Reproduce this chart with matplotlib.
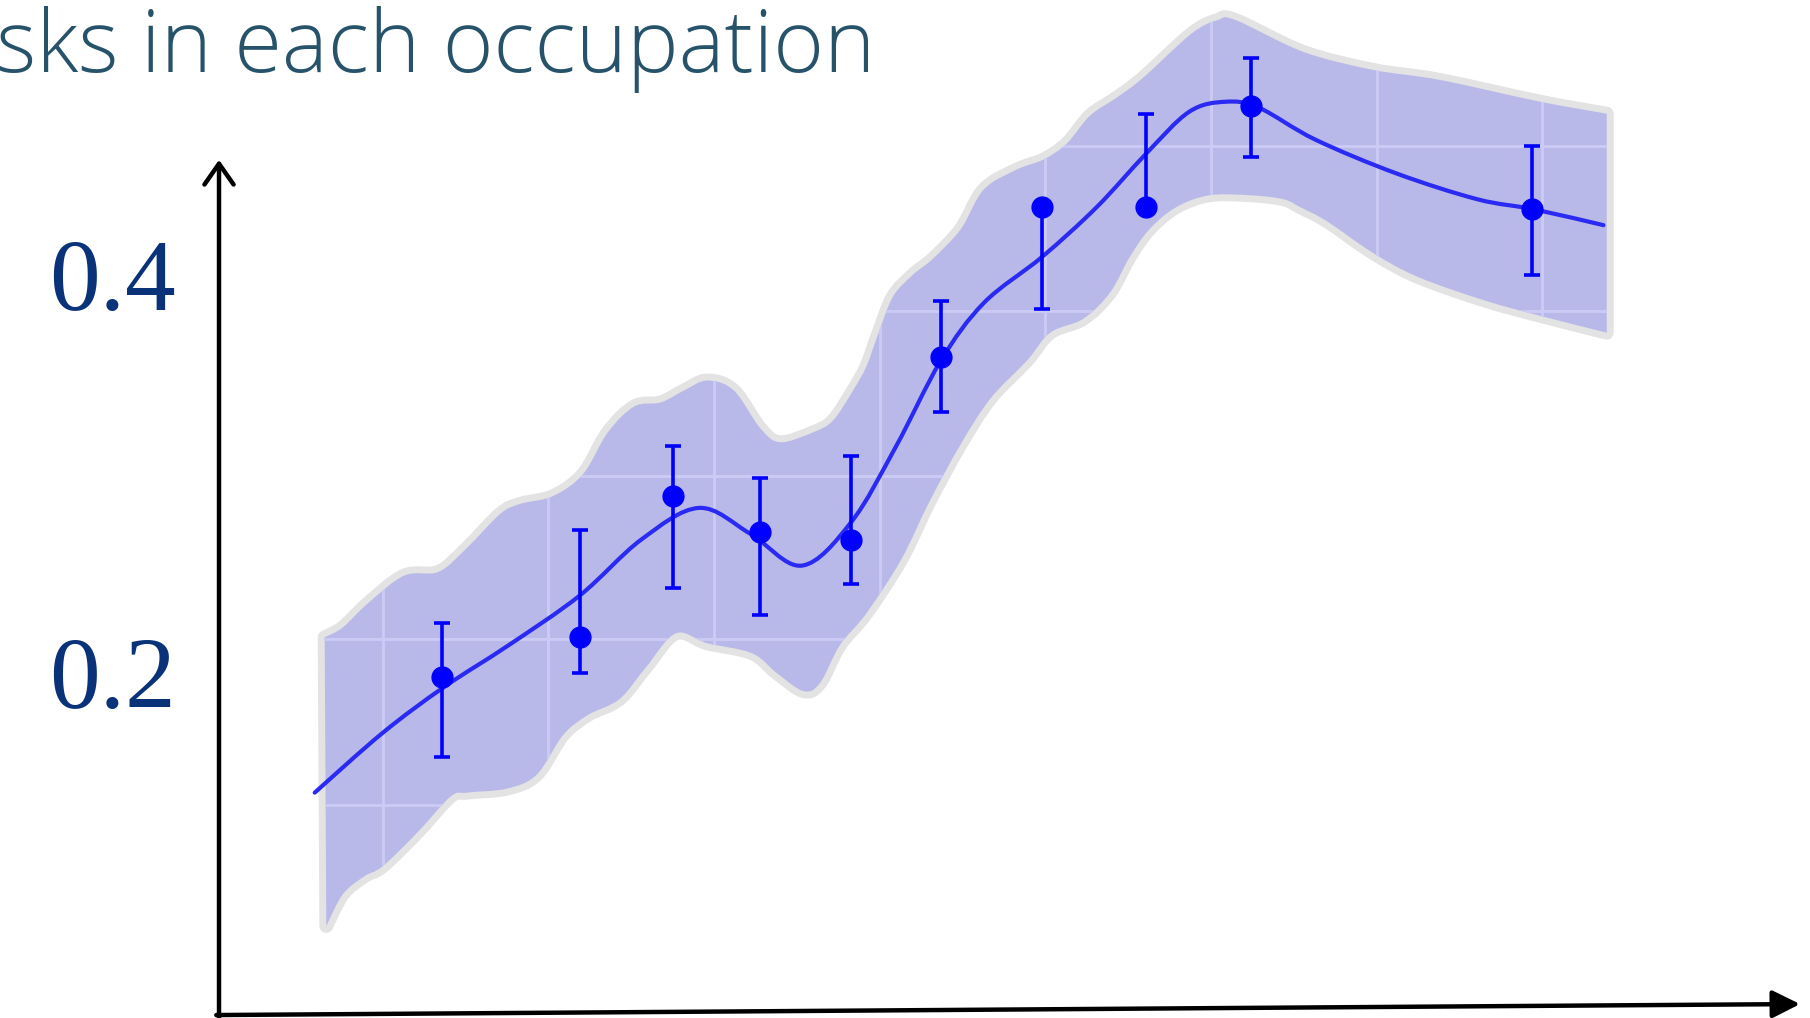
import numpy as np
import matplotlib
matplotlib.use("Agg")
import matplotlib.pyplot as plt
from matplotlib.path import Path
from matplotlib.patches import PathPatch
from matplotlib import transforms

# observed points with asymmetric error bars
x_obs = [1.36, 2.19, 2.75, 3.28, 3.83, 4.37, 4.98, 5.61, 6.24, 7.94]
y_obs = [0.199, 0.219, 0.290, 0.272, 0.268, 0.360, 0.435, 0.435, 0.486, 0.434]
y_hi = [0.226, 0.273, 0.315, 0.299, 0.310, 0.388, 0.435, 0.482, 0.510, 0.466]
y_lo = [0.159, 0.201, 0.244, 0.230, 0.246, 0.332, 0.384, 0.435, 0.460, 0.401]

# posterior mean
x_mean = [0.59, 1.00, 1.37, 1.76, 2.19, 2.56, 2.91, 3.22, 3.53, 3.83, 4.10, 4.37,
          4.63, 4.98, 5.31, 5.61, 5.87, 6.09, 6.29, 6.63, 7.12, 7.61, 7.95, 8.37]
y_mean = [0.141, 0.171, 0.194, 0.215, 0.240, 0.268, 0.284, 0.271, 0.255, 0.277,
          0.315, 0.358, 0.387, 0.410, 0.435, 0.462, 0.483, 0.488, 0.485, 0.469,
          0.452, 0.439, 0.434, 0.426]

# credible band
x_up = [0.65, 0.76, 0.91, 1.13, 1.34, 1.51, 1.71, 1.83, 2.03, 2.21, 2.36, 2.52,
        2.68, 2.82, 2.96, 3.12, 3.28, 3.40, 3.60, 3.72, 3.84, 3.92, 3.99, 4.08,
        4.20, 4.32, 4.49, 4.63, 4.83, 4.99, 5.13, 5.27, 5.43, 5.59, 5.88, 6.04,
        6.15, 6.56, 6.98, 7.38, 7.99, 8.39]
y_up = [0.219, 0.224, 0.236, 0.250, 0.252, 0.264, 0.281, 0.286, 0.290, 0.301,
        0.322, 0.335, 0.337, 0.343, 0.348, 0.343, 0.324, 0.317, 0.322, 0.328,
        0.343, 0.355, 0.371, 0.390, 0.401, 0.409, 0.424, 0.444, 0.454, 0.459,
        0.467, 0.481, 0.490, 0.500, 0.522, 0.529, 0.529, 0.513, 0.504, 0.499,
        0.488, 0.482]
x_low = [0.66, 0.76, 0.89, 1.00, 1.21, 1.41, 1.51, 1.75, 1.93, 2.09, 2.24, 2.43,
         2.59, 2.77, 2.96, 3.23, 3.38, 3.54, 3.64, 3.76, 3.92, 4.13, 4.30, 4.49,
         4.67, 4.89, 5.03, 5.23, 5.39, 5.51, 5.63, 5.79, 5.99, 6.24, 6.44, 6.54,
         6.70, 6.98, 7.25, 7.66, 8.01, 8.39]
y_low = [0.074, 0.090, 0.099, 0.104, 0.121, 0.139, 0.141, 0.143, 0.150, 0.170,
         0.180, 0.188, 0.204, 0.221, 0.216, 0.211, 0.201, 0.192, 0.196, 0.215,
         0.231, 0.258, 0.287, 0.316, 0.339, 0.358, 0.372, 0.379, 0.392, 0.410,
         0.424, 0.435, 0.441, 0.441, 0.439, 0.435, 0.428, 0.412, 0.400, 0.388,
         0.380, 0.372]

grid_x = [1, 2, 3, 4, 5, 6, 7, 8]
grid_y = [0.135, 0.218, 0.300, 0.383, 0.466]
tick_vals = [0.2, 0.4]
tick_text = ["0.2", "0.4"]
title = "sks in each occupation"

BAND = "#b9b9e9"
EDGE = "#e3e3e3"
GRID = "#cbcbf6"
BLUE = "#0000ff"
LINE = "#2a2af2"
NAVY = "#0a3279"


def smooth(xs, ys):
    """Catmull-Rom through the points, returned as cubic bezier pieces."""
    p = np.column_stack([xs, ys]).astype(float)
    n = len(p)
    verts = [p[0]]
    codes = [Path.MOVETO]
    for i in range(n - 1):
        p0, p1 = p[max(i - 1, 0)], p[i]
        p2, p3 = p[i + 1], p[min(i + 2, n - 1)]
        verts += [p1 + (p2 - p0) / 6, p2 - (p3 - p1) / 6, p2]
        codes += [Path.CURVE4] * 3
    return verts, codes


fig = plt.figure(figsize=(18.1, 10.18), dpi=100)
ax = fig.add_axes([0, 0, 1, 1])
ax.set_xlim(-1.310, 9.617)
ax.set_ylim(0.0278, 0.5391)
ax.axis("off")

# band outline: upper edge left->right, lower edge right->left
uv, uc = smooth(x_up, y_up)
lv, lc = smooth(x_low[::-1], y_low[::-1])
verts = uv + [lv[0]] + lv[1:] + [uv[0]]
codes = uc + [Path.LINETO] + lc[1:] + [Path.CLOSEPOLY]
band_path = Path(verts, codes)

ax.add_patch(PathPatch(band_path, facecolor="none", edgecolor=EDGE, lw=10,
                       joinstyle="round", zorder=1))
band = PathPatch(band_path, facecolor=BAND, edgecolor="none", zorder=2)
ax.add_patch(band)

for gx in grid_x:
    ln = ax.axvline(gx, color=GRID, lw=2, zorder=3)
    ln.set_clip_path(band)
for gy in grid_y:
    ln = ax.axhline(gy, color=GRID, lw=2, zorder=3)
    ln.set_clip_path(band)

mv, mc = smooth(x_mean, y_mean)
ax.add_patch(PathPatch(Path(mv, mc), facecolor="none", edgecolor=LINE, lw=3,
                       capstyle="round", zorder=4))

yerr = [np.array(y_obs) - np.array(y_lo), np.array(y_hi) - np.array(y_obs)]
ax.errorbar(x_obs, y_obs, yerr=yerr, fmt="o", color=BLUE, ms=15, elinewidth=2.6,
            capsize=6, capthick=2.6, zorder=5)

# hand-drawn axes on the slide
ax.annotate("", xy=(0.121, 0.843), xytext=(0.121, -0.01),
            xycoords="figure fraction", textcoords="figure fraction",
            arrowprops=dict(arrowstyle="->,head_length=0.5,head_width=0.35",
                            lw=3.2, color="black", mutation_scale=30,
                            shrinkA=0, shrinkB=0))
ax.annotate("", xy=(0.9945, 0.0137), xytext=(0.1195, 0.0029),
            xycoords="figure fraction", textcoords="figure fraction",
            arrowprops=dict(arrowstyle="-|>,head_length=0.6,head_width=0.3",
                            lw=3.2, color="black", mutation_scale=28,
                            shrinkA=0, shrinkB=0))

# tick labels sit with their digits centred on the value
trans = transforms.offset_copy(ax.get_yaxis_transform(), fig=fig,
                               y=-23.5, units="points")
for v, t in zip(tick_vals, tick_text):
    ax.text(0.097, v, t, transform=trans, ha="right", va="baseline",
            family="Liberation Serif", fontsize=73, color=NAVY)

fig.text(-0.002, 0.929, title, ha="left", va="baseline", family="Open Sans",
         fontweight="light", fontsize=62.5, color="#27536a")

fig.savefig("out.png", dpi=100)
